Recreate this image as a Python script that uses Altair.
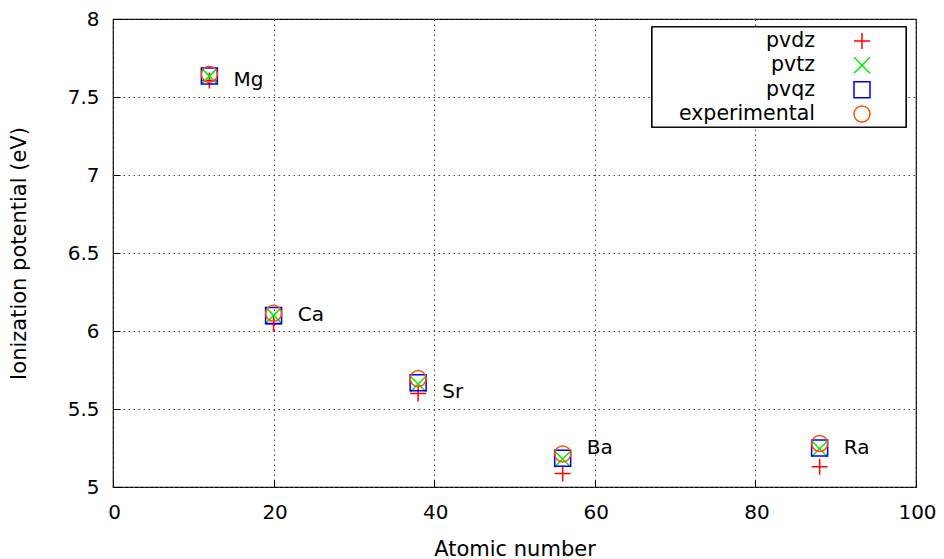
import altair as alt
import pandas as pd

elements = ["Mg", "Ca", "Sr", "Ba", "Ra"]
atomic_number = [12, 20, 38, 56, 88]
pvdz = [7.606, 6.045, 5.600, 5.086, 5.130]
pvtz = [7.634, 6.100, 5.660, 5.180, 5.245]
pvqz = [7.634, 6.100, 5.668, 5.184, 5.250]
experimental = [7.646, 6.113, 5.695, 5.212, 5.279]

label_x = [15, 23, 41, 59, 91]
label_y = [7.61, 6.10, 5.61, 5.25, 5.25]

series_names = ["pvdz", "pvtz", "pvqz", "experimental"]
series_colors = ["#ff0000", "#00ee00", "#0000ff", "#ff5000"]
series_shapes = [
    "M-1,0L1,0M0,-1L0,1",
    "M-1,-1L1,1M-1,1L1,-1",
    "square",
    "circle",
]

rows = []
for name, vals in zip(series_names, [pvdz, pvtz, pvqz, experimental]):
    for z, v in zip(atomic_number, vals):
        rows.append({"series": name, "Z": z, "IP": v})
df = pd.DataFrame(rows)

labels_df = pd.DataFrame({"element": elements, "x": label_x, "y": label_y})
legend_df = pd.DataFrame({"series": series_names, "row": list(range(len(series_names)))})

FONT = "DejaVu Sans"

xscale = alt.Scale(domain=[0, 100], nice=False, zero=False)
yscale = alt.Scale(domain=[5, 8], nice=False, zero=False)
color_enc = alt.Color("series:N", scale=alt.Scale(domain=series_names, range=series_colors),
                      legend=None)
shape_enc = alt.Shape("series:N", scale=alt.Scale(domain=series_names, range=series_shapes),
                      legend=None)

points = alt.Chart(df).mark_point(filled=False, size=256, strokeWidth=1.5, opacity=1).encode(
    x=alt.X("Z:Q", scale=xscale,
            axis=alt.Axis(title="Atomic number", values=[0, 20, 40, 60, 80, 100])),
    y=alt.Y("IP:Q", scale=yscale,
            axis=alt.Axis(title="Ionization potential (eV)",
                          values=[5, 5.5, 6, 6.5, 7, 7.5, 8], format="~g")),
    color=color_enc,
    shape=shape_enc,
)

text = alt.Chart(labels_df).mark_text(align="left", baseline="middle", fontSize=20,
                                      font=FONT, color="black").encode(
    x=alt.X("x:Q", scale=xscale),
    y=alt.Y("y:Q", scale=yscale),
    text="element:N",
)

main = alt.layer(points, text)

# key box in the top-right corner of the plot
row_scale = alt.Scale(domain=[0, 3], range=[22, 95])
frame = alt.Chart(legend_df).mark_rect(fill="white", stroke="black", strokeWidth=1.2).encode(
    x=alt.value(539), x2=alt.value(793),
    y=alt.value(8), y2=alt.value(108),
)
leg_text = alt.Chart(legend_df).mark_text(align="right", baseline="middle", fontSize=20.5,
                                          font=FONT, color="black").encode(
    x=alt.value(702),
    y=alt.Y("row:Q", scale=row_scale, axis=None),
    text="series:N",
)
leg_sym = alt.Chart(legend_df).mark_point(filled=False, size=256, strokeWidth=1.5,
                                          opacity=1).encode(
    x=alt.value(749),
    y=alt.Y("row:Q", scale=row_scale, axis=None),
    color=color_enc,
    shape=shape_enc,
)
legend = alt.layer(frame, leg_text, leg_sym)

chart = alt.layer(main, legend).resolve_scale(y="independent").properties(
    width=803, height=468,
    autosize=alt.AutoSizeParams(type="none"),
    padding={"left": 105, "top": 11, "right": 20, "bottom": 72},
).configure_view(
    stroke="black", strokeWidth=1.2
).configure_axis(
    grid=True, gridColor="#444444", gridDash=[1.5, 3.5], gridWidth=1, gridOpacity=1,
    domain=False, ticks=True, tickColor="black", tickSize={"expr": "-7"}, tickWidth=1,
    labelFont=FONT, labelFontSize=20, labelColor="black",
    titleFont=FONT, titleFontSize=21, titleColor="black", titleFontWeight="normal",
).configure_axisX(
    labelPadding=22, titlePadding=16, labelFlush=False, labelOffset=1,
).configure_axisY(
    labelPadding=21, titlePadding=38,
)

chart.save("out.html", embed_options={"renderer": "svg", "actions": False})
